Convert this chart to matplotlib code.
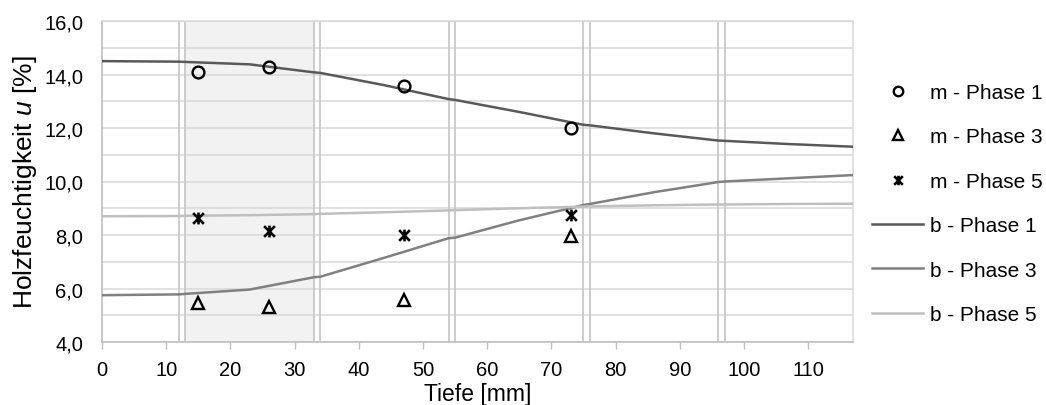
import matplotlib
matplotlib.use("Agg")
import matplotlib.pyplot as plt
from matplotlib.path import Path
from matplotlib.ticker import MultipleLocator, FuncFormatter

plt.rcParams["font.family"] = ["Liberation Sans", "DejaVu Sans"]
plt.rcParams["mathtext.fontset"] = "custom"
plt.rcParams["mathtext.it"] = "Liberation Sans:italic"
plt.rcParams["mathtext.rm"] = "Liberation Sans"

# Measured moisture (m) at four depths
m_depth = [15, 26, 47, 73]
m_phase1 = [14.08, 14.28, 13.58, 11.99]
m_phase3 = [5.45, 5.30, 5.58, 7.95]
m_phase5 = [8.62, 8.16, 8.00, 8.73]

# Computed moisture profiles (b)
b_depth = [0, 12, 13, 23, 33, 34, 44, 54, 55, 65, 75, 76, 86, 96, 97, 107, 117]
b_phase1 = [14.50, 14.48, 14.47, 14.38, 14.08, 14.06, 13.60, 13.08, 13.05,
            12.60, 12.12, 12.10, 11.80, 11.53, 11.52, 11.40, 11.30]
b_phase3 = [5.75, 5.78, 5.80, 5.96, 6.42, 6.44, 7.15, 7.88, 7.90,
            8.55, 9.12, 9.16, 9.60, 9.98, 10.00, 10.12, 10.24]
b_phase5 = [8.70, 8.71, 8.72, 8.74, 8.78, 8.79, 8.85, 8.92, 8.93,
            9.00, 9.06, 9.07, 9.11, 9.14, 9.14, 9.16, 9.17]

# Layer boundaries (double lines) and the shaded layer
boundaries = [(12, 13), (33, 34), (54, 55), (75, 76), (96, 97)]
shade = (13, 33)

x_ticks = list(range(0, 111, 10))

fig = plt.figure(figsize=(10.46, 4.06), dpi=100)
ax = fig.add_axes([102 / 1046, 1 - 343 / 406, (853 - 102) / 1046, (343 - 22) / 406])

ax.set_xlim(0, 117)
ax.set_ylim(4, 16)

ax.axvspan(shade[0], shade[1], color="#f2f2f2", zorder=0, lw=0)
ax.yaxis.set_major_locator(MultipleLocator(2))
ax.yaxis.set_minor_locator(MultipleLocator(1))
ax.yaxis.set_major_formatter(FuncFormatter(lambda v, p: f"{v:.1f}".replace(".", ",")))
ax.grid(axis="y", which="both", color="#d9d9d9", lw=1.1, zorder=0.5)
ax.set_axisbelow(True)
for a, b in boundaries:
    ax.axvline(a, color="#c8c8c8", lw=1.3, zorder=0.6)
    ax.axvline(b, color="#c8c8c8", lw=1.3, zorder=0.6)

ax.set_xticks(x_ticks)
ax.tick_params(axis="x", length=5, width=1, color="#bfbfbf", labelsize=14.5, pad=8)
ax.tick_params(axis="y", which="both", length=0, labelsize=14.5, pad=13.5)

for s in ["left", "bottom"]:
    ax.spines[s].set_color("#bfbfbf")
    ax.spines[s].set_linewidth(1.2)
for s in ["right", "top"]:
    ax.spines[s].set_color("#d9d9d9")
    ax.spines[s].set_linewidth(1.1)

star = Path(
    [(-1, -1), (1, 1), (-1, 1), (1, -1), (0, -1.1), (0, 1.1)],
    [Path.MOVETO, Path.LINETO, Path.MOVETO, Path.LINETO, Path.MOVETO, Path.LINETO],
)

ax.plot(m_depth, m_phase1, ls="none", marker="o", ms=8.5, mfc="none", mec="black",
        mew=1.7, label="m - Phase 1", zorder=5)
ax.plot(m_depth, m_phase3, ls="none", marker="^", ms=8.5, mfc="none", mec="black",
        mew=1.7, label="m - Phase 3", zorder=5)
ax.plot(m_depth, m_phase5, ls="none", marker=star, ms=8.5, mfc="none", mec="black",
        mew=1.9, label="m - Phase 5", zorder=5)
ax.plot(b_depth, b_phase1, color="#595959", lw=1.8, label="b - Phase 1", zorder=4)
ax.plot(b_depth, b_phase3, color="#808080", lw=1.8, label="b - Phase 3", zorder=4)
ax.plot(b_depth, b_phase5, color="#bfbfbf", lw=1.8, label="b - Phase 5", zorder=4)

ax.set_xlabel("Tiefe [mm]", fontsize=16.5, labelpad=2)
ax.set_ylabel("Holzfeuchtigkeit $\\mathit{u}$ [%]", fontsize=19, labelpad=4)

ax.legend(loc="upper left", bbox_to_anchor=(872 / 1046, 1 - 84 / 406),
          bbox_transform=fig.transFigure, frameon=False, fontsize=15,
          handlelength=2.45, handletextpad=0.34, labelspacing=1.22,
          borderpad=0, borderaxespad=0, markerscale=0.8)

fig.savefig("out.png", dpi=100)
